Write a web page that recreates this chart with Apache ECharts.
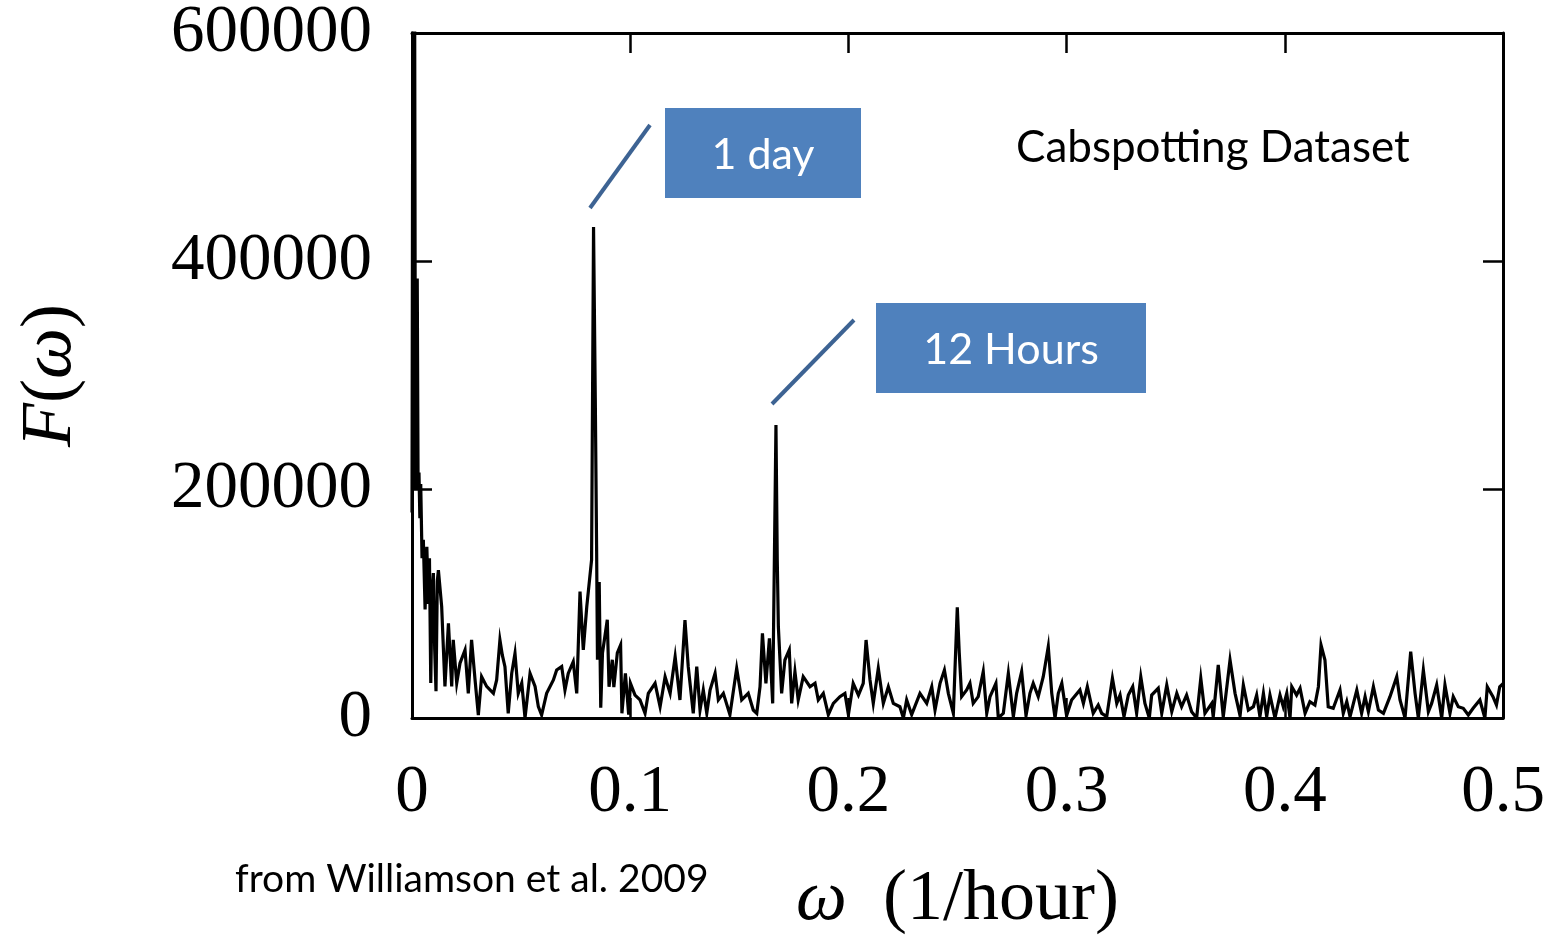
<!DOCTYPE html>
<html>
<head>
<meta charset="utf-8">
<script src="https://cdn.jsdelivr.net/npm/echarts@6/dist/echarts.min.js"></script>
<style>
  html, body { margin: 0; padding: 0; background: #fff; }
  #chart { width: 1559px; height: 940px; }
</style>
</head>
<body>
<div id="chart"></div>
<script>
// frequency (1/hour)
var freq = [
  0.0000, 0.0004, 0.0008, 0.0012, 0.0016, 0.0020, 0.0024, 0.0028, 0.0032, 0.0036,
  0.0040, 0.0046, 0.0052, 0.0060, 0.0068, 0.0075, 0.0080, 0.0086, 0.0092, 0.0098,
  0.0104, 0.0110, 0.0116, 0.0121, 0.0136, 0.0151, 0.0167, 0.0182, 0.0189, 0.0205,
  0.0220, 0.0243, 0.0258, 0.0273, 0.0289, 0.0304, 0.0319, 0.0342, 0.0373, 0.0388,
  0.0403, 0.0414, 0.0426, 0.0441, 0.0457, 0.0472, 0.0487, 0.0503, 0.0518, 0.0541,
  0.0564, 0.0579, 0.0594, 0.0617, 0.0648, 0.0663, 0.0686, 0.0701, 0.0716, 0.0739,
  0.0755, 0.0770, 0.0785, 0.0801, 0.0823, 0.0832, 0.0840, 0.0846, 0.0850, 0.0858,
  0.0865, 0.0873, 0.0895, 0.0903, 0.0918, 0.0925, 0.0941, 0.0956, 0.0962, 0.0978,
  0.0993, 0.1001, 0.1022, 0.1045, 0.1068, 0.1083, 0.1114, 0.1137, 0.1160, 0.1183,
  0.1206, 0.1228, 0.1251, 0.1266, 0.1289, 0.1305, 0.1320, 0.1335, 0.1351, 0.1366,
  0.1389, 0.1404, 0.1427, 0.1457, 0.1488, 0.1511, 0.1541, 0.1564, 0.1580, 0.1595,
  0.1606, 0.1622, 0.1638, 0.1653, 0.1668, 0.1674, 0.1679, 0.1694, 0.1709, 0.1729,
  0.1740, 0.1755, 0.1770, 0.1793, 0.1824, 0.1847, 0.1862, 0.1885, 0.1908, 0.1931,
  0.1961, 0.1984, 0.2000, 0.2022, 0.2046, 0.2068, 0.2081, 0.2099, 0.2114, 0.2137,
  0.2160, 0.2183, 0.2206, 0.2236, 0.2252, 0.2267, 0.2290, 0.2328, 0.2359, 0.2382,
  0.2397, 0.2420, 0.2440, 0.2458, 0.2481, 0.2499, 0.2508, 0.2519, 0.2542, 0.2557,
  0.2572, 0.2595, 0.2618, 0.2634, 0.2649, 0.2676, 0.2687, 0.2710, 0.2733, 0.2756,
  0.2771, 0.2794, 0.2814, 0.2832, 0.2847, 0.2870, 0.2893, 0.2916, 0.2932, 0.2947,
  0.2962, 0.2978, 0.3000, 0.3023, 0.3061, 0.3077, 0.3095, 0.3122, 0.3145, 0.3161,
  0.3184, 0.3210, 0.3230, 0.3245, 0.3263, 0.3283, 0.3303, 0.3321, 0.3340, 0.3359,
  0.3379, 0.3390, 0.3420, 0.3436, 0.3459, 0.3482, 0.3505, 0.3527, 0.3550, 0.3573,
  0.3596, 0.3615, 0.3634, 0.3665, 0.3672, 0.3695, 0.3718, 0.3749, 0.3772, 0.3795,
  0.3810, 0.3833, 0.3856, 0.3871, 0.3886, 0.3902, 0.3917, 0.3932, 0.3955, 0.3978,
  0.3993, 0.4009, 0.4024, 0.4032, 0.4054, 0.4070, 0.4093, 0.4115, 0.4138, 0.4154,
  0.4166, 0.4184, 0.4199, 0.4222, 0.4253, 0.4268, 0.4284, 0.4299, 0.4330, 0.4352,
  0.4368, 0.4383, 0.4406, 0.4429, 0.4452, 0.4482, 0.4513, 0.4528, 0.4551, 0.4577,
  0.4597, 0.4612, 0.4635, 0.4658, 0.4673, 0.4696, 0.4719, 0.4734, 0.4757, 0.4772,
  0.4795, 0.4818, 0.4841, 0.4863, 0.4894, 0.4917, 0.4928, 0.4954, 0.4970, 0.4985,
  0.5000
];

// F(omega), same order as freq
var power = [
  180000, 650000, 220000, 640000, 200000, 380000, 385000, 200000, 215000, 175000,
  205000, 140000, 156000, 95000, 150000, 100000, 140000, 30600, 110000, 127000,
  60000, 23400, 120000, 129600, 97500, 27700, 83000, 27700, 68400, 30600,
  48000, 59600, 21600, 68400, 33300, 2600, 36200, 27700, 21600, 33300,
  68400, 55000, 45000, 4100, 39100, 56600, 21600, 30600, 0, 39100,
  27700, 9900, 2600, 21600, 33300, 42000, 45000, 24500, 39100, 49300,
  21600, 110700, 59600, 97500, 138400, 430000, 280000, 150000, 51000, 119000,
  9000, 57000, 86000, 27400, 51000, 27000, 57000, 64000, 4100, 39100,
  2900, 30400, 20000, 15800, 4100, 21600, 30400, 9900, 36200, 21600,
  53700, 15800, 85800, 45000, 4100, 45000, 7000, 24500, 4100, 24500,
  39100, 15800, 21600, 2900, 43500, 15800, 21600, 7000, 4100, 27400,
  74200, 30400, 69800, 12800, 256700, 138000, 80000, 21600, 50800, 59600,
  12800, 40600, 15800, 36200, 27400, 30400, 15800, 21600, 2900, 12800,
  18700, 21600, 2900, 30400, 20100, 30400, 68300, 33300, 12800, 43500,
  12800, 27400, 12800, 9900, 0, 15800, 2900, 21600, 12800, 27400,
  7000, 30400, 42000, 21600, 4100, 97000, 57000, 18700, 24500, 30400,
  12800, 18700, 40600, 4100, 18700, 30400, 0, 4100, 39100, 1200,
  21600, 40600, 2000, 21600, 30400, 18700, 36200, 62500, 21600, 0,
  21600, 30400, 2000, 15800, 24500, 12800, 27400, 4100, 11400, 4100,
  1200, 34800, 12800, 20100, 1200, 20100, 27400, 4100, 36200, 12800,
  0, 20100, 26000, 4100, 28900, 5500, 21600, 9900, 20100, 5500,
  0, 34800, 4100, 12800, 1000, 46400, 1000, 50800, 21600, 2000,
  28900, 7000, 9900, 20100, 1200, 21600, 1200, 20100, 0, 20100,
  9900, 21600, 0, 27400, 20100, 26000, 4100, 14300, 11400, 27400,
  63900, 50800, 9900, 8500, 24500, 4100, 14300, 1200, 24500, 4100,
  18700, 5500, 27400, 7000, 4100, 18700, 36200, 15800, 0, 58100,
  21600, 0, 42000, 5500, 12800, 28900, 0, 28900, 4100, 18700,
  9900, 8500, 2600, 8500, 15800, 0, 27400, 18700, 11400, 27400,
  30000
];

var xTicks = [0, 0.1, 0.2, 0.3, 0.4, 0.5];
var yTicks = [0, 200000, 400000, 600000];

var chart = echarts.init(document.getElementById('chart'));

var serif = '"Liberation Serif", "DejaVu Serif", serif';
var sans = 'Lato, "Open Sans", sans-serif';
var tickStyle = { show: true, inside: true, length: 20, lineStyle: { color: '#000', width: 2.5 } };
var frameLine = { show: true, onZero: false, lineStyle: { color: '#000', width: 3 } };

var data = freq.map(function (f, i) { return [f, power[i]]; });

chart.setOption({
  animation: false,
  backgroundColor: '#fff',
  grid: { left: 412, right: 56, top: 33, bottom: 222, containLabel: false, outerBoundsMode: 'none' },
  xAxis: [{
    type: 'value',
    min: xTicks[0], max: xTicks[xTicks.length - 1], interval: 0.1,
    position: 'bottom',
    axisLine: frameLine,
    axisTick: tickStyle,
    splitLine: { show: false },
    axisLabel: {
      margin: 42, fontFamily: serif, fontSize: 67, color: '#000',
      formatter: function (v) { return String(+v.toFixed(1)); }
    },
    name: '{w|ω}  (1/hour)',
    nameLocation: 'middle',
    nameGap: 146,
    nameTextStyle: {
      fontFamily: serif, fontSize: 72, color: '#000',
      rich: { w: { fontFamily: serif, fontSize: 72, fontStyle: 'italic', color: '#000' } }
    }
  }, {
    type: 'value',
    min: xTicks[0], max: xTicks[xTicks.length - 1], interval: 0.1,
    position: 'top',
    axisLine: frameLine,
    axisTick: tickStyle,
    splitLine: { show: false },
    axisLabel: { show: false }
  }],
  yAxis: [{
    type: 'value',
    min: yTicks[0], max: yTicks[yTicks.length - 1], interval: 200000,
    position: 'left',
    axisLine: frameLine,
    axisTick: tickStyle,
    splitLine: { show: false },
    axisLabel: {
      margin: 40, fontFamily: serif, fontSize: 67, color: '#000',
      formatter: function (v) { return String(v); }
    },
    name: '{i|F}({i|ω})',
    nameLocation: 'middle',
    nameRotate: 90,
    nameGap: 325,
    nameTextStyle: {
      fontFamily: serif, fontSize: 72, color: '#000',
      rich: { i: { fontFamily: serif, fontSize: 72, fontStyle: 'italic', color: '#000' } }
    }
  }, {
    type: 'value',
    min: yTicks[0], max: yTicks[yTicks.length - 1], interval: 200000,
    position: 'right',
    axisLine: frameLine,
    axisTick: tickStyle,
    splitLine: { show: false },
    axisLabel: { show: false }
  }],
  series: [{
    type: 'line',
    data: data,
    showSymbol: false,
    symbol: 'none',
    clip: true,
    lineStyle: { color: '#000', width: 3.2, join: 'miter' },
    z: 3
  }],
  graphic: [
    { type: 'line', shape: { x1: 590, y1: 208, x2: 650, y2: 125 }, style: { stroke: '#3D6393', lineWidth: 4 }, z: 10 },
    { type: 'line', shape: { x1: 772, y1: 404, x2: 854, y2: 320 }, style: { stroke: '#3D6393', lineWidth: 4 }, z: 10 },
    { type: 'rect', shape: { x: 665, y: 108, width: 196, height: 90 }, style: { fill: '#4F81BD' }, z: 10 },
    { type: 'text', x: 763, y: 155, z: 11,
      style: { text: '1 day', fill: '#fff', font: '43px ' + sans, align: 'center', verticalAlign: 'middle', textAlign: 'center', textVerticalAlign: 'middle' } },
    { type: 'rect', shape: { x: 876, y: 303, width: 270, height: 90 }, style: { fill: '#4F81BD' }, z: 10 },
    { type: 'text', x: 1011, y: 350, z: 11,
      style: { text: '12 Hours', fill: '#fff', font: '43px ' + sans, align: 'center', verticalAlign: 'middle', textAlign: 'center', textVerticalAlign: 'middle' } },
    { type: 'text', x: 1016, y: 148, z: 11,
      style: { text: 'Cabspotting Dataset', fill: '#000', font: '44px ' + sans, align: 'left', verticalAlign: 'middle', textAlign: 'left', textVerticalAlign: 'middle' } },
    { type: 'text', x: 235, y: 879, z: 11,
      style: { text: 'from Williamson et al. 2009', fill: '#000', font: '39px ' + sans, align: 'left', verticalAlign: 'middle', textAlign: 'left', textVerticalAlign: 'middle' } }
  ]
});
</script>
</body>
</html>
